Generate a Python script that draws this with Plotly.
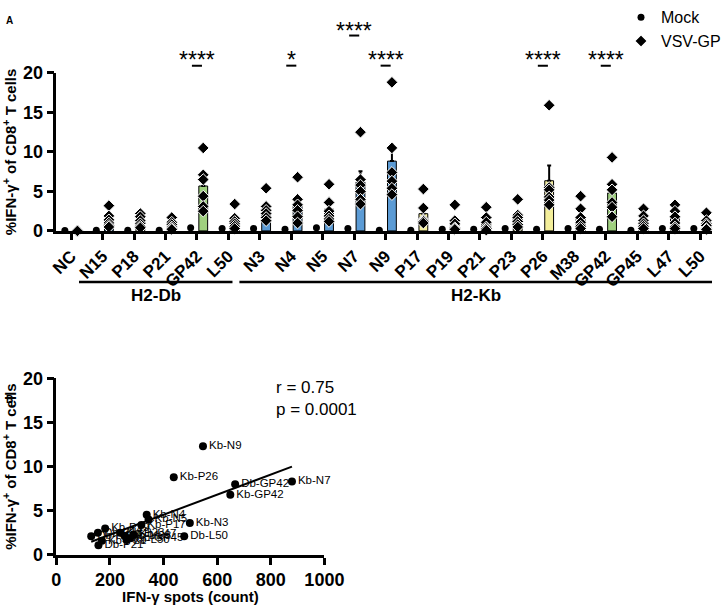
import numpy as np
import plotly.graph_objects as go

FONT = "Liberation Sans"

# ---- panel A data ----
peptides = ["NC", "N15", "P18", "P21", "GP42", "L50",
            "N3", "N4", "N5", "N7", "N9", "P17", "P19", "P21", "P23",
            "P26", "M38", "GP42", "GP45", "L47", "L50"]
mock = [0.05, 0.1, 0.1, 0.1, 0.4, 0.3, 0.3, 0.2, 0.4, 0.3, 0.1,
        0.1, 0.2, 0.2, 0.3, 0.2, 0.3, 0.2, 0.1, 0.3, 0.3]
vsv_gp = [
    [0, 0, 0, 0, 0, 0],                 # NC
    [3.2, 1.9, 1.4, 1.0, 0.7, 0.5],     # N15
    [2.2, 1.8, 1.3, 0.9, 0.6, 0.4],     # P18
    [1.7, 1.1, 0.8, 0.5, 0.3, 0.2],     # P21
    [10.5, 7.1, 6.5, 4.4, 3.1, 2.5],    # GP42
    [3.4, 1.6, 1.2, 0.9, 0.6, 0.3],     # L50
    [5.4, 3.1, 2.6, 2.2, 1.7, 1.3],     # N3
    [6.8, 4.0, 3.3, 2.6, 1.8, 1.0],     # N4
    [5.9, 3.6, 2.5, 1.9, 1.5, 1.2],     # N5
    [12.5, 6.5, 5.8, 5.0, 4.0, 3.4],    # N7
    [18.8, 10.5, 7.4, 6.3, 5.4, 4.6],   # N9
    [5.3, 2.9, 1.4, 1.3, 1.2, 1.0],     # P17
    [3.3, 1.3, 0.9, 0.4, 0.3, 0.2],     # P19
    [3.0, 1.7, 1.1, 0.5, 0.3, 0.1],     # P21
    [4.0, 2.0, 1.7, 1.2, 0.8, 0.5],     # P23
    [15.9, 5.5, 5.2, 4.3, 3.9, 3.3],    # P26
    [4.4, 2.8, 1.7, 1.1, 0.6, 0.3],     # M38
    [9.3, 5.9, 5.2, 3.6, 3.0, 1.8],     # GP42
    [2.8, 1.9, 1.3, 0.9, 0.6, 0.3],     # GP45
    [3.3, 2.5, 1.8, 1.0, 0.5, 0.3],     # L47
    [2.3, 1.3, 0.9, 0.7, 0.3, 0.2],     # L50
]
sig_index = [4, 7, 9, 10, 15, 17]
sig_text = ["****", "*", "****", "****", "****", "****"]
sig_row = [0, 0, 1, 0, 0, 0]

# ---- panel B data ----
pep_labels = ["Db-N15", "Db-P18", "Db-P21", "Db-GP42", "Db-L50",
              "Kb-N3", "Kb-N4", "Kb-N5", "Kb-N7", "Kb-N9", "Kb-P17", "Kb-P19",
              "Kb-P21", "Kb-P23", "Kb-P26", "Kb-M38", "Kb-GP42", "Kb-GP45",
              "Kb-L47", "Kb-L50"]
spots = [130, 155, 157, 667, 477, 498, 337, 344, 879, 547, 317, 182,
         170, 238, 438, 256, 649, 275, 287, 262]
pct_cd8 = [2.1, 2.5, 1.1, 8.0, 2.1, 3.6, 4.55, 4.0, 8.3, 12.3, 3.4, 3.0,
           1.6, 2.5, 8.8, 2.1, 6.8, 1.9, 2.3, 1.7]

colour_map = {"N": "#5b9bd5", "P": "#f3ee9a", "G": "#9fd07f",
              "L": "#f2d3e6", "M": "#ffffff"}
bar_colours = [colour_map.get(p[0], "#ffffff") if p != "NC" else "#ffffff"
               for p in peptides]

idx = np.arange(len(peptides))
pts = np.array(vsv_gp, dtype=float)
means = pts.mean(axis=1)
sem = pts.std(axis=1, ddof=1) / np.sqrt(pts.shape[1])

fig = go.Figure()

fig.add_trace(go.Bar(
    x=idx + 0.2, y=means, width=0.28, marker_color=bar_colours,
    marker_line=dict(color="black", width=1),
    error_y=dict(type="data", array=sem, arrayminus=np.zeros(len(sem)),
                 symmetric=False, color="black", thickness=2, width=2),
    showlegend=False, xaxis="x", yaxis="y"))

fig.add_trace(go.Scatter(
    x=idx - 0.2, y=mock, mode="markers", name="Mock",
    marker=dict(symbol="circle", size=7, color="black"),
    cliponaxis=False, xaxis="x", yaxis="y"))

xs = np.repeat(idx + 0.2, pts.shape[1])
fig.add_trace(go.Scatter(
    x=xs, y=pts.flatten(), mode="markers", name="VSV-GP",
    marker=dict(symbol="diamond", size=9, color="black",
                line=dict(color="white", width=1)),
    cliponaxis=False, xaxis="x", yaxis="y"))

# panel B
slope, icpt = np.polyfit(spots, pct_cd8, 1)
lx = np.array([min(spots), max(spots)])
fig.add_trace(go.Scatter(
    x=lx, y=slope * lx + icpt, mode="lines", line=dict(color="black", width=2),
    showlegend=False, xaxis="x2", yaxis="y2"))
fig.add_trace(go.Scatter(
    x=spots, y=pct_cd8, mode="markers+text", text=pep_labels,
    textposition="middle right",
    textfont=dict(family=FONT, size=11.5, color="black"),
    marker=dict(size=8, color="black"), showlegend=False,
    cliponaxis=False, xaxis="x2", yaxis="y2"))

tickfont = dict(family=FONT, size=18, color="black", weight="bold")
ytitle = "%IFN-γ<sup>+</sup> of CD8<sup>+</sup> T cells"
axis_style = dict(showline=True, linecolor="black", linewidth=2.5,
                  ticks="outside", ticklen=7, tickwidth=2.5, tickcolor="black",
                  showgrid=False, zeroline=False, automargin=False)

fig.update_layout(
    width=726, height=605, margin=dict(l=0, r=0, t=0, b=0),
    plot_bgcolor="white", paper_bgcolor="white",
    font=dict(family=FONT, color="black"),
    barmode="overlay",
    xaxis=dict(domain=[57 / 726, 720 / 726], range=[-0.47, 20.38],
               tickvals=idx, ticktext=peptides, tickangle=-45,
               tickfont=dict(family=FONT, size=17, color="black", weight="bold"),
               anchor="y", **{**axis_style, "ticklen": 6}),
    yaxis=dict(domain=[(605 - 224) / 605, (605 - 63) / 605], range=[0, 20],
               tickvals=[0, 5, 10, 15, 20], tickfont=tickfont, anchor="x",
               title=dict(text=ytitle, standoff=8,
                          font=dict(family=FONT, size=15, weight="bold")),
               **axis_style),
    xaxis2=dict(domain=[57 / 726, 328 / 726], range=[0, 1000],
                tickvals=[0, 200, 400, 600, 800, 1000], tickfont=tickfont,
                anchor="y2",
                title=dict(text="IFN-γ spots (count)", standoff=4,
                           font=dict(family=FONT, size=15, weight="bold")),
                **axis_style),
    yaxis2=dict(domain=[(605 - 554) / 605, (605 - 374) / 605], range=[0, 20],
                tickvals=[0, 5, 10, 15, 20], tickfont=tickfont, anchor="x2",
                title=dict(text=ytitle, standoff=8,
                           font=dict(family=FONT, size=15, weight="bold")),
                **axis_style),
    legend=dict(x=0.865, y=1.018, xanchor="left", yanchor="top",
                font=dict(family=FONT, size=16, color="black"),
                itemwidth=30, tracegroupgap=0, bgcolor="rgba(0,0,0,0)"),
)

# significance marks
for i, txt, row in zip(sig_index, sig_text, sig_row):
    ytxt = 0.917 if row == 0 else 0.967
    yline = 0.908 if row == 0 else 0.9587
    fig.add_annotation(x=i, y=ytxt, xref="x", yref="paper", text=txt,
                       showarrow=False, yanchor="middle",
                       font=dict(family=FONT, size=23, color="black"))
    fig.add_shape(type="line", xref="x", yref="paper", x0=i - 0.16, x1=i + 0.16,
                  y0=yline, y1=yline, line=dict(color="black", width=2))

# MHC group bars
for x0, x1, lab in [(0.25, 5.13, "H2-Db"), (5.35, 20.38, "H2-Kb")]:
    fig.add_shape(type="line", xref="x", yref="paper", x0=x0, x1=x1,
                  y0=(605 - 276) / 605, y1=(605 - 276) / 605,
                  line=dict(color="black", width=2.5))
    fig.add_annotation(x=(x0 + x1) / 2, y=(605 - 290) / 605, xref="x", yref="paper",
                       text=lab, showarrow=False,
                       font=dict(family=FONT, size=17, color="black", weight="bold"))

fig.add_annotation(x=277 / 726, y=(605 - 395) / 605, xref="paper", yref="paper",
                   text="r = 0.75<br>p = 0.0001", align="left", showarrow=False,
                   xanchor="left", yanchor="middle",
                   font=dict(family=FONT, size=17, color="black"))
fig.add_annotation(x=4 / 726, y=1 - 10 / 605, xref="paper", yref="paper", text="A",
                   showarrow=False, xanchor="left", yanchor="middle",
                   font=dict(family=FONT, size=10, color="black", weight="bold"))
fig.add_annotation(x=4 / 726, y=1 - 396 / 605, xref="paper", yref="paper", text="B",
                   showarrow=False, xanchor="left", yanchor="middle",
                   font=dict(family=FONT, size=10, color="black", weight="bold"))

# drop the page's default body margin so the figure sits at the window origin
fig.write_html("out.html", config={"displayModeBar": False},
               post_script="document.body.style.margin = '0';")
